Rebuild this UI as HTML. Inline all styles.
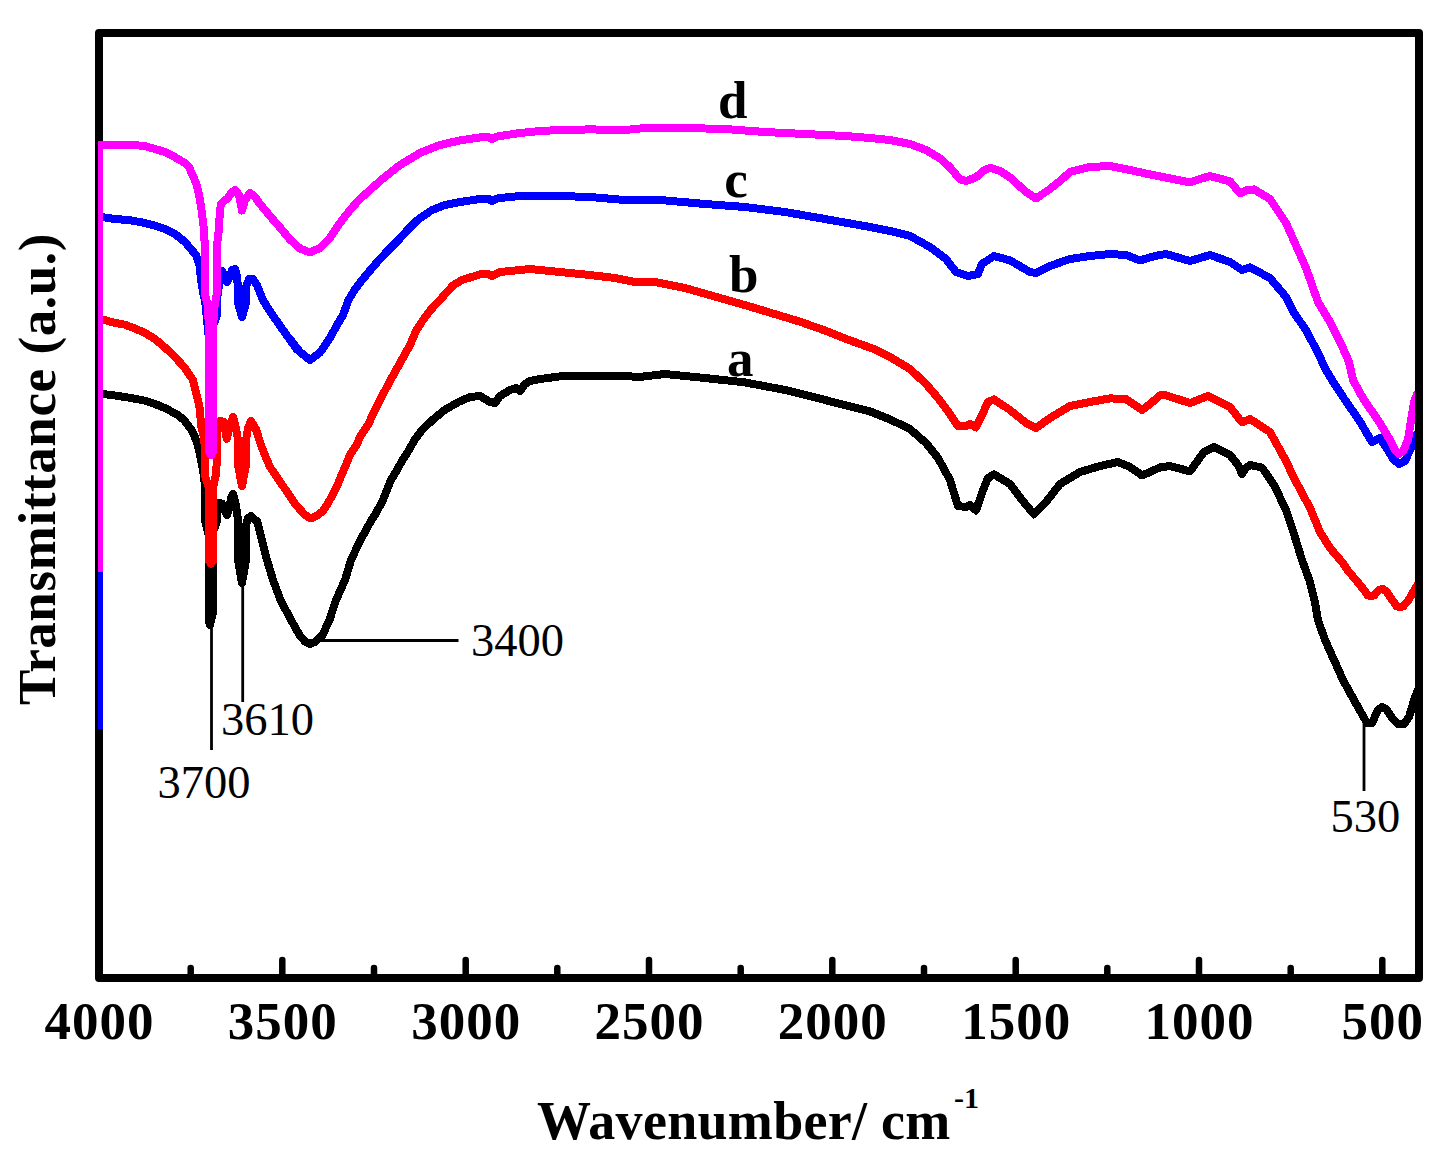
<!DOCTYPE html>
<html><head><meta charset="utf-8"><style>
html,body{margin:0;padding:0;background:#fff;}
svg{display:block;}
</style></head><body>
<svg width="1450" height="1170" viewBox="0 0 1450 1170">
<rect width="1450" height="1170" fill="#fff"/>
<defs><clipPath id="pa"><rect x="98" y="30" width="1317" height="948"/></clipPath></defs>
<g clip-path="url(#pa)" shape-rendering="crispEdges" fill="none" stroke-width="8" stroke-linejoin="round" stroke-linecap="round">
<polyline stroke="#000" points="98,394 103,394 115,395.5 125,397 135,398.7 145,400.7 155,404 163.7,407.5 170.5,411 177.4,414.7 184,420 191,429.4 194.5,436 198,446 201,460 203,470 205,485 205,520 209,536 209,621 210,625 213,612 213,532 216.7,522 216.7,505 219,503 222,503.5 225,511 227,515 229.5,508 231,498 233,494 236,505 238,520 238,560 242,583 246,560 246,525 248,518 251,516 257.5,522 262,540 267,560 273,580 280.5,600 291,620 299.5,635 305,641.5 310,644 315,642 322.5,635 329.5,620 336,600 345,580 351,560 360.5,540 371.5,520 375,515 383,500 387,490 391,480 397,470 402.5,460 409,450 414.5,440 422,430 432.5,420 444.5,410 458.5,402 470,397 480,396 490,402 495,403 500,396 510,390 516,388 520,391 525,384 530,381 540,379 560,376.4 590,376 625,376 639,377 665,374 705,378 745,382.4 785,390 825,400 870,411.4 890,419.4 910,429 926,443 938,458 950,480 958,506 966,507 970,505 976,510.4 982,493 988,478 994,474.4 1010,484 1022,500 1034,514.4 1046,502 1060,484 1080,472 1100,466 1118,462 1130,467 1142,475.4 1150,472 1160,467.4 1170,466 1190,471.4 1196,463 1204,452 1214,447 1230,455 1238,465 1242,474 1246,468 1250,465 1262,467.6 1274,485 1286,510 1294,534 1302,560 1310,582 1314.5,600 1318,620 1325,640 1334,660 1343,680 1354,700 1363,716 1367,723 1372,723 1378,710 1382,707 1386,709 1393,719 1398,724 1404,724 1409,717 1412,707 1415,697 1418,690"/>
<polyline stroke="#f00" points="98,319.7 103,319.7 115,322.8 125,324.7 135,328.5 145,333 155,339 165,347.5 175,357 185,368 190,375.5 193,380 195.5,390 198,400 200,410 201,425 204,437 205,450 205,476 209,488 209,561 211,563.5 213,561 213,488 216,474 217,458 217,428 218.5,422 220,421 224,422 226.7,438.7 230,425 233,417 236,428 238,440 238,465 242,486 246,465 246,440 248,428 251,421 256,429.4 262,448 270,467 283,486 296,505 305,515 311,518.5 318,515 323,511 327,505 332.5,495 337.5,485 341.5,475 346,465 350,455 356.5,445 361,435 368,425 372.5,415 380,400 390,381 400,363 410,345 416.5,330 423,320 430.5,310 440,300 447,292 453.5,285 462,280 480,274.4 488,274 492,276 496,274 500,272 520,270 530,269 560,272 590,275 615,278 635,282 655,282 685,288 700,292.3 750,306.6 800,321.7 825,330.5 845,338.5 875,349.5 890,357 910,369 926,384 938,398 950,414 958,426.4 966,426 970,424 976,427.4 982,415 988,402 994,399.4 1010,410 1026,423 1036,428 1050,418 1070,406 1090,402 1110,398.4 1126,399 1142,410 1150,404 1160,395.4 1166,395.4 1190,403 1208,396 1230,407 1242,422.4 1250,419 1270,432 1286,461 1294,478 1310,508 1320,532 1330,548 1342,562 1349,572 1356,580 1364,590 1368,595.5 1374,595.5 1379,590 1383,589 1387,592 1393,601 1397,606.5 1403,606.5 1408,601 1412,594 1415,589 1418,584"/>
<polyline stroke="#00f" points="98,217 103,217.2 115,219 130,220.2 145,223 155,225.7 165,229 175,234 185,242 190,248 196,255 199.5,265 201,280 203,292 205,300 207,320 208.5,335 211,333 213,326 217,315 217,300 219,285 220,274 222,271 224,274 227,282 230,276 232,270 235,269 237,276 238,288 238,303 242,317 246,303 246,287 249,279 253,279 257,285 263,300 269,310 283,330 296.5,349 290,339 300,352 310,360 320,352.5 330,338 337,325 343,315 348.5,300 354.5,290 362,280 370.5,270 379,260 388.5,250 398.5,240 407.5,230 417.5,220 432,210 445,205 460,202 480,199 488,198.5 492,201 496,199 500,198 520,196 540,196 560,196 590,197 625,200 665,200.4 705,204 745,207 785,212 825,219 870,227 890,231 910,236 930,247 946,259 956,272 968,276 978,274 982,264 994,256 1010,260.4 1030,272 1036,273 1050,266 1070,259 1090,256 1110,254 1126,255 1140,260.4 1150,257.4 1160,255 1166,254 1190,261 1210,255 1230,262 1242,270 1250,267.4 1270,278 1286,297 1294,313 1306,330 1318,353 1326,370 1332,380 1345,400 1359,420 1372,442 1380,438 1388,450 1393,459 1399,464 1405,461 1410,450 1413,443 1417,434"/>
<polyline stroke="#f0f" points="98,144.5 105,144.5 115,145 125,145.2 135,145.1 145,146.2 155,149 165,152 175,157.2 185,163 189,167 192.5,175 196,183 198,190 200,200 201.5,210 204,230 205,250 205,295 208,306 209,330 209,451 211,455 213,451 213,330 214,310 216.5,295 216.5,250 218.8,230 220,210 221,204 224.5,200.5 228,198 232,192 235,190 239,195 242,210.5 245,200 250,193 255,197 260,204 270,216 280,227.5 290,239.5 300,248.5 310,252.4 320,248 330,238 340,223 350,210 360,199 380,181 400,165 420,153 440,145 460,140.4 480,137.4 488,137 492,139 496,137 500,136 520,133 540,131 560,130 590,129.4 625,130 635,129 645,128 685,128 725,129 765,132 805,134 845,136 870,138 890,140 910,144 926,150 940,158.4 950,167.4 960,179.4 966,181 976,177.4 983,171 990,167.8 1000,171 1010,177.4 1026,192 1036,198.4 1050,189 1060,181 1070,172 1090,167 1110,166 1130,170 1150,174.4 1170,178.4 1190,182.4 1200,179 1210,176 1230,181.4 1240,193.4 1247,190 1254,189.4 1270,199 1286,223 1294,241 1306,268 1318,302 1330,322 1342,346 1349,362 1353,380 1364,400 1378,420 1390,440 1395,450 1399,454 1403,451 1408,440 1411,420 1414,402 1417,394"/>
</g>
<rect x="99" y="33" width="1320" height="945" fill="none" stroke="#000" stroke-width="8" stroke-linejoin="round"/>
<rect x="98" y="141" width="5" height="431" fill="#f0f"/>
<rect x="98" y="572" width="5" height="157" fill="#00f"/>
<g stroke="#000" stroke-width="6.5" stroke-linecap="round">
<line x1="190.7" y1="968" x2="190.7" y2="976"/><line x1="282.3" y1="960" x2="282.3" y2="976"/><line x1="374.0" y1="968" x2="374.0" y2="976"/><line x1="465.7" y1="960" x2="465.7" y2="976"/><line x1="557.3" y1="968" x2="557.3" y2="976"/><line x1="649.0" y1="960" x2="649.0" y2="976"/><line x1="740.7" y1="968" x2="740.7" y2="976"/><line x1="832.3" y1="960" x2="832.3" y2="976"/><line x1="924.0" y1="968" x2="924.0" y2="976"/><line x1="1015.7" y1="960" x2="1015.7" y2="976"/><line x1="1107.3" y1="968" x2="1107.3" y2="976"/><line x1="1199.0" y1="960" x2="1199.0" y2="976"/><line x1="1290.7" y1="968" x2="1290.7" y2="976"/><line x1="1382.3" y1="960" x2="1382.3" y2="976"/>
</g>
<g stroke="#000" stroke-width="2.8">
<line x1="211.5" y1="625" x2="211.5" y2="750"/>
<line x1="242.7" y1="585" x2="242.7" y2="702"/>
<line x1="318" y1="640.5" x2="458.5" y2="640.5"/>
<line x1="1364" y1="722" x2="1364" y2="791"/>
</g>
<g font-family="Liberation Serif" font-weight="bold" font-size="53" letter-spacing="1" text-anchor="middle" fill="#000">
<text x="99.5" y="1039">4000</text><text x="282.8" y="1039">3500</text><text x="466.2" y="1039">3000</text><text x="649.5" y="1039">2500</text><text x="832.8" y="1039">2000</text><text x="1016.2" y="1039">1500</text><text x="1199.5" y="1039">1000</text><text x="1382.8" y="1039">500</text>
</g>
<g font-family="Liberation Serif" font-weight="bold" font-size="53" fill="#000">
<text x="718" y="117.5">d</text>
<text x="724.3" y="197">c</text>
<text x="729" y="292">b</text>
<text x="727" y="376">a</text>
</g>
<g font-family="Liberation Serif" font-size="46.5" fill="#000">
<text x="157.5" y="797.5">3700</text>
<text x="221" y="735">3610</text>
<text x="471" y="656">3400</text>
<text x="1330.5" y="831.5">530</text>
</g>
<text font-family="Liberation Serif" font-weight="bold" font-size="53" letter-spacing="0.6" fill="#000" transform="translate(54.5,469) rotate(-90)" text-anchor="middle">Transmittance (a.u.)</text>
<text font-family="Liberation Serif" font-weight="bold" font-size="54" letter-spacing="0.3" fill="#000" x="537" y="1138.5">Wavenumber/ cm</text>
<text font-family="Liberation Serif" font-weight="bold" font-size="30" fill="#000" x="954" y="1108">-1</text>
</svg>
</body></html>
